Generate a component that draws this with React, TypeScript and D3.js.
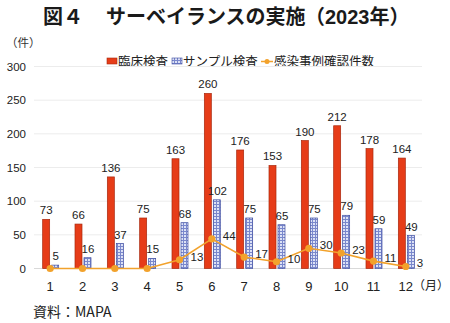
import React from "react";
import * as d3 from "d3";

const months = ["1", "2", "3", "4", "5", "6", "7", "8", "9", "10", "11", "12"];
const clinical = [73, 66, 136, 75, 163, 260, 176, 153, 190, 212, 178, 164];
const sample = [5, 16, 37, 15, 68, 102, 75, 65, 75, 79, 59, 49];
const cases = [0, 0, 0, 0, 13, 44, 17, 10, 30, 23, 11, 3];
const yTicks = [0, 50, 100, 150, 200, 250, 300];
const seriesNames = ["臨床検査", "サンプル検査", "感染事例確認件数"];

const W = 450;
const H = 323;
const FONT = "'Liberation Sans', Arial, 'Noto Sans CJK JP', sans-serif";
const JFONT = "'Noto Sans CJK JP', 'Liberation Sans', sans-serif";
const RED = "#e63c18";
const RED_STROKE = "#a8280e";
const BLUE_STROKE = "#3c4ca0";
const ORANGE = "#f2a22c";

export default function App() {
  const x = d3.scaleBand<string>().domain(months).range([34, 422]).paddingInner(0).paddingOuter(0);
  const y = d3.scaleLinear().domain([0, 300]).range([268.5, 66.5]);
  const bw = 7;
  const cx = (m: string) => (x(m) as number) + x.bandwidth() / 2;

  const line = d3
    .line<number>()
    .x((_, i) => cx(months[i]))
    .y((d) => y(d));

  return (
    <svg width={W} height={H} style={{ position: "absolute", left: 0, top: 0, background: "#fff" }}>
      <defs>
        <pattern id="grid" width="3" height="3" patternUnits="userSpaceOnUse">
          <rect width="3" height="3" fill="#dde2f6" />
          <rect x="0" y="0" width="3" height="1" fill="#7a88cc" />
          <rect x="0" y="0" width="1" height="3" fill="#7a88cc" />
        </pattern>
      </defs>
      <g fontWeight="bold" fontSize={20} fill="#1a1a1a">
        <text x={43} y={24} fontFamily={JFONT}>図４</text>
        <text x={106} y={24} fontFamily={JFONT}>サーベイランスの実施</text>
        <text x={305} y={24} fontFamily={FONT}>
          <tspan fontFamily={JFONT}>（</tspan>2023<tspan fontFamily={JFONT}>年）</tspan>
        </text>
      </g>
      <text x={6} y={47} fontFamily={JFONT} fontSize={11.5} fill="#333">
        （件）
      </text>

      {/* legend */}
      <g fontFamily={JFONT} fontSize={12.5} fill="#222">
        <rect x={107} y={58} width={10} height={6} fill={RED} stroke={RED_STROKE} strokeWidth={0.6} />
        <text x={118} y={66}>{seriesNames[0]}</text>
        <rect x={172} y={58} width={10} height={6} fill="url(#grid)" stroke={BLUE_STROKE} strokeWidth={0.6} />
        <text x={183} y={66}>{seriesNames[1]}</text>
        <line x1={261} x2={273} y1={61.5} y2={61.5} stroke={ORANGE} strokeWidth={1.5} />
        <circle cx={267} cy={61.5} r={2.5} fill={ORANGE} />
        <text x={274} y={66}>{seriesNames[2]}</text>
      </g>

      {/* gridlines */}
      {yTicks.map((t) => (
        <g key={t}>
          <line x1={34} x2={422} y1={y(t)} y2={y(t)} stroke={t === 0 ? "#d9d9d9" : "#ececec"} strokeWidth={1} />
          <text x={26} y={y(t) + 4} textAnchor="end" fontFamily={FONT} fontSize={11.5} fill="#222">
            {t}
          </text>
        </g>
      ))}

      {/* bars */}
      {months.map((m, i) => (
        <g key={m}>
          <rect
            x={cx(m) - 7.5}
            y={y(clinical[i])}
            width={bw}
            height={y(0) - y(clinical[i])}
            fill={RED}
            stroke={RED_STROKE}
            strokeWidth={0.7}
          />
          <rect
            x={cx(m) + 1.5}
            y={y(sample[i])}
            width={bw}
            height={y(0) - y(sample[i])}
            fill="url(#grid)"
            stroke={BLUE_STROKE}
            strokeWidth={0.7}
          />
          <text x={cx(m) - 4} y={y(clinical[i]) - 5} textAnchor="middle" fontFamily={FONT} fontSize={11.5} fill="#222">
            {clinical[i]}
          </text>
          <text x={cx(m) + 5.5} y={y(sample[i]) - 5} textAnchor="middle" fontFamily={FONT} fontSize={11.5} fill="#222">
            {sample[i]}
          </text>
          <text x={cx(m)} y={286 + 4.5} textAnchor="middle" fontFamily={FONT} fontSize={13} fill="#222">
            {m}
          </text>
        </g>
      ))}

      {/* line */}
      <path d={line(cases) || ""} fill="none" stroke={ORANGE} strokeWidth={1.6} />
      {cases.map((v, i) => (
        <g key={i}>
          <circle cx={cx(months[i])} cy={y(v)} r={3.6} fill={ORANGE} />
          {v > 0 && (
            <text x={cx(months[i]) + 11} y={y(v) + 1} fontFamily={FONT} fontSize={11.5} fill="#222">
              {v}
            </text>
          )}
        </g>
      ))}

      <text x={413} y={290} fontFamily={JFONT} fontSize={12} fill="#222">
        （月）
      </text>
      <text x={33} y={317} fontFamily={JFONT} fontSize={14} fill="#222">
        資料：MAPA
      </text>
    </svg>
  );
}
